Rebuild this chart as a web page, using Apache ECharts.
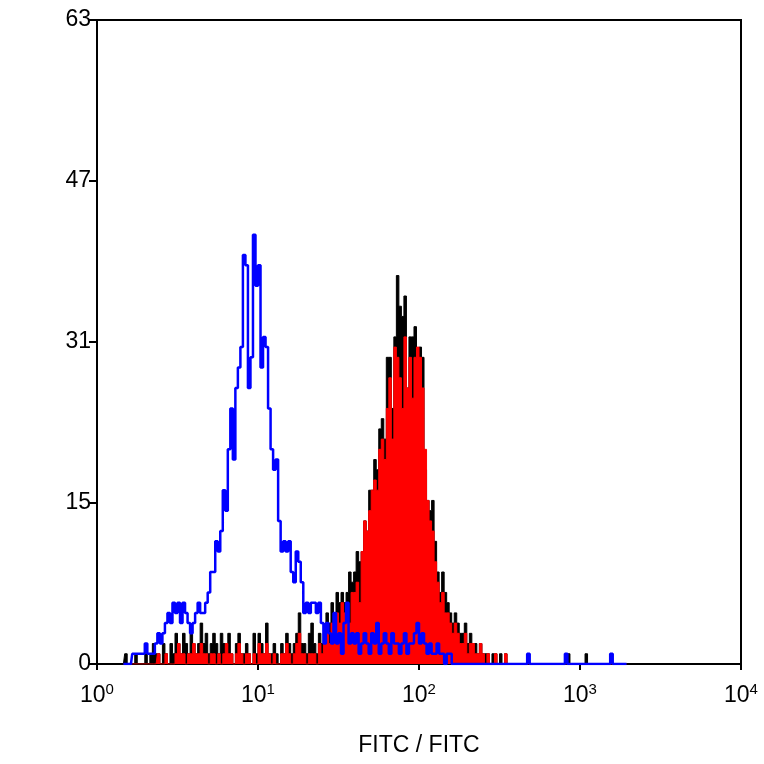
<!DOCTYPE html>
<html>
<head>
<meta charset="utf-8">
<script src="https://cdn.jsdelivr.net/npm/echarts@6/dist/echarts.min.js"></script>
<style>html,body{margin:0;padding:0;background:#fff}#chart{width:764px;height:764px}</style>
</head>
<body>
<div id="chart"></div>
<script>
// 256 channels over 4 decades, data starts at channel 10
var startChannel = 10;
var channelsPerDecade = 64;
var xTickLabels = ['0', '1', '2', '3', '4'];
var yTicks = [0, 15, 31, 47, 63];

var blueCounts = [].concat(
    [0,0,0,0],
    [1,1,1,1,1,2,1,1],
    [1,2,3,2,3,4],
    [5,4,6,5,6],
    [4,6,5,4,3,4,5],
    [6,5,5,6,7],
    [9,9,12,11,13],
    [17,15,21,25],
    [20,27,29,31],
    [40,39,27,30],
    [42,37],
    [39,29,32],
    [31,25],
    [21,19,20],
    [14,11,12,11,12],
    [9,8],
    [11,10,8,5],
    [6,5,6,6,5,6,4],
    [2,4,3,2,5,2,3,1,4,6,2,3],
    [2,3,1,2,3,2,1,3,2,4,1,2,3,2,1,3,2,2,1,2,3,1,2,2,3,4,2,3,2,1,2,1,1,2,1,1,0,1,1],
    [0,0,0,0,0,0,0,0,0,0,0,0,0,0,0,0,0,0,0,0,0,0,0,0,0,0,0,0,0,0,1,0,0,0,0,0,0,0,0,0,0,0,0,0,0,1,0,0,0,0,0,0,0,0,0,0,0,0,0,0,0,0,0,1,0,0,0,0,0,0]
);

var redCounts = [].concat(
    [0,0,0,0,0,0,0,0,0,0,0,0,0,0,1,0,0,1,0,0],
    [0,1,2,1,1,0,1,1,2,1,1,2,1,1,0,1,1,0,1,0],
    [1,2,1,1,0,1,2,1,0,1,1,0,1,0,2,1,1,2,1,0],
    [1,0,0,1,1,2,1,0,1,2,3,1,1,0,1,1,1,0,2,1],
    [2,3,2,4,3,5,4],
    [6,5,6],
    [4,7,7],
    [8,6,11,14,13],
    [15,17,18,17],
    [21,22,20],
    [25,28,22],
    [31,30,28,25],
    [32,27,30],
    [26,30,31,30],
    [27,21,16],
    [14,13,10,8],
    [6,7,5,5,4],
    [3,4,3,2,2,3,1,2,2,1,1,2,1],
    [0,1,0,0,1,0,0,0,1,0,0,0,0,0,0,0,0,0,0,0,0,0,0,0,0,0,0,0,0,0,0,0,0,0,0,0,0,0,0,0,0,0,0,0,0,0,0,0,0,0,0,0,0,0,0,0,0]
);

var blackCounts = [].concat(
    [0,1,0,0,0,1,0,0,0,1,0,1,2,1,1,0,2,1,0,2],
    [1,3,2,1,3,2,1,3,2,1,2,4,2,3,1,2,3,2,1,3],
    [2,1,3,1,0,2,3,1,1,2,1,0,3,1,3,2,1,4,1,1],
    [2,1,0,2,1,3,2,1,2,3,5,2,2,1,3,4,2,1,3,2],
    [3,5,4,6,5,7,6],
    [7,6,7],
    [9,8,9],
    [11,10,11,14,13],
    [17,17,20,19],
    [23,24,22],
    [30,30,25],
    [32,38,35,34],
    [36,27,32],
    [32,33,30,31],
    [30,19,16],
    [15,16,12,9],
    [7,9,7,6,5],
    [4,5,4,3,3,4,2,3,2,2,1,2,1],
    [1,1,0,1,1,0,1,0,1,0,0,0,0,0,0,0,0,0,0,0,0,0,0,0,0,0,0,0,0,0,0,0,0,1,0,0,0,0,0,0,1,0,0,0,0,0,0,0,0,0,1,0,0,0,0,0,0]
);

function toPairs(counts) {
    var out = [];
    for (var i = 0; i < counts.length; i++) {
        var ch = startChannel + i;
        out.push([Math.pow(10, (ch + 0.5) / channelsPerDecade), counts[i]]);
    }
    return out;
}

var myChart = echarts.init(document.getElementById('chart'));
var font = 'Liberation Sans';
var option = {
    backgroundColor: '#fff',
    animation: false,
    grid: { left: 97, right: 23, top: 20, bottom: 100, show: true, borderColor: '#000', borderWidth: 2, backgroundColor: 'transparent' },
    xAxis: {
        type: 'log', min: 1, max: 10000, logBase: 10,
        name: 'FITC / FITC', nameLocation: 'middle', nameGap: 70,
        nameTextStyle: { color: '#000', fontSize: 23, fontFamily: font },
        axisLine: { lineStyle: { color: '#000', width: 2 } },
        axisTick: { length: 6, lineStyle: { color: '#000', width: 2 } },
        splitLine: { show: false },
        minorTick: { show: false },
        axisLabel: {
            margin: 18, color: '#000', fontSize: 23, fontFamily: font,
            formatter: function (v) {
                var e = Math.round(Math.log10(v));
                return '10{s|' + xTickLabels[e] + '}';
            },
            rich: { s: { fontSize: 15, verticalAlign: 'top', padding: [0, 0, 12, 0], fontFamily: font, color: '#000' } }
        }
    },
    yAxis: {
        type: 'value', min: 0, max: 63, interval: 15.75,
        axisLine: { show: true, lineStyle: { color: '#000', width: 2 } },
        axisTick: { show: true, length: 8, lineStyle: { color: '#000', width: 2 } },
        splitLine: { show: false },
        axisLabel: {
            color: '#000', fontSize: 23, fontFamily: font, margin: 6,
            formatter: function (v) { return yTicks[Math.round(v / 15.75)]; }
        }
    },
    series: [
        { name: 'black', type: 'line', step: 'middle', symbol: 'none', data: toPairs(blackCounts),
          lineStyle: { color: '#000', width: 1 }, areaStyle: { color: '#000', opacity: 1 }, z: 1 },
        { name: 'red', type: 'line', step: 'middle', symbol: 'none', data: toPairs(redCounts),
          lineStyle: { color: '#ff0000', width: 1 }, areaStyle: { color: '#ff0000', opacity: 1 }, z: 2 },
        { name: 'blue', type: 'line', step: 'middle', symbol: 'none', data: toPairs(blueCounts),
          lineStyle: { color: '#0000ff', width: 2.5 }, z: 3 }
    ]
};
myChart.setOption(option);
</script>
</body>
</html>
